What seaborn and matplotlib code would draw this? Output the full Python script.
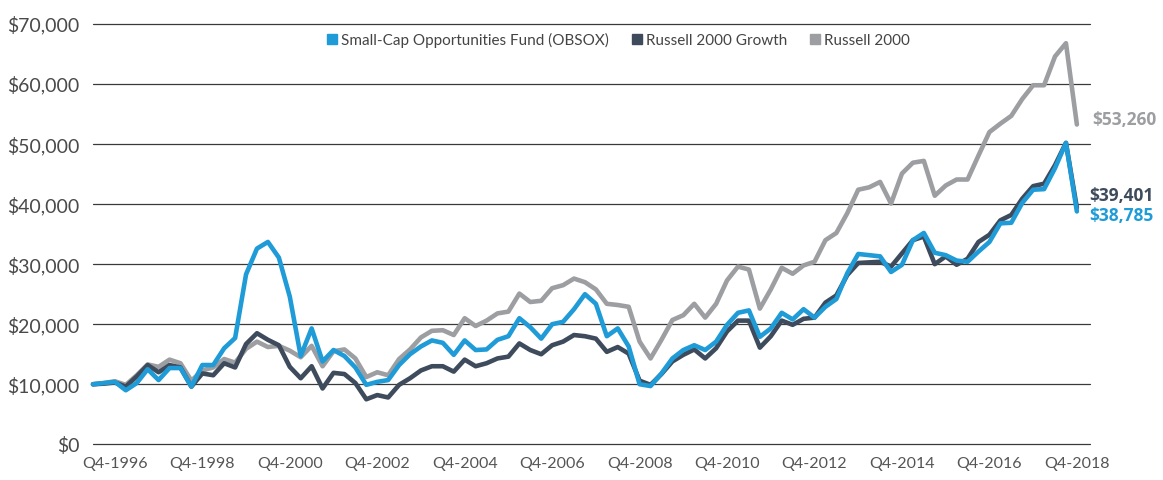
import numpy as np
import pandas as pd
import matplotlib
matplotlib.use("Agg")
import matplotlib.pyplot as plt
from matplotlib.lines import Line2D
import seaborn as sns

# ---- data (values in $ thousands, quarterly, Q2-1996 .. Q4-2018) ----
fund = [10.0, 10.2, 10.4, 9.0, 10.2, 12.5, 10.7, 12.7, 12.7, 9.6,
        13.2, 13.2, 16.0, 17.7, 28.3, 32.6, 33.7, 31.1, 24.6, 14.7,
        19.3, 13.8, 15.7, 14.7, 12.8, 9.9, 10.4, 10.7, 13.2, 15.0,
        16.3, 17.3, 16.9, 14.9, 17.3, 15.7, 15.8, 17.4, 18.0, 21.0,
        19.5, 17.6, 20.0, 20.4, 22.5, 25.0, 23.4, 18.0, 19.3, 16.3,
        10.0, 9.7, 11.8, 14.3, 15.7, 16.5, 15.7, 17.1, 19.9, 21.9,
        22.3, 17.9, 19.3, 21.9, 20.8, 22.5, 21.1, 22.9, 24.2, 28.5,
        31.7, 31.5, 31.3, 28.7, 29.9, 34.0, 35.2, 31.9, 31.5, 30.6,
        30.4, 32.1, 33.7, 36.8, 36.9, 40.2, 42.4, 42.5, 46.0, 50.2,
        38.785]
r2000g = [10.0, 10.1, 10.3, 9.6, 11.3, 13.2, 12.0, 13.2, 12.8, 9.6,
          11.8, 11.5, 13.5, 12.8, 16.7, 18.5, 17.4, 16.5, 12.9, 11.0,
          13.0, 9.3, 11.9, 11.7, 10.2, 7.5, 8.2, 7.8, 9.9, 11.0,
          12.3, 13.0, 13.0, 12.1, 14.1, 13.0, 13.5, 14.3, 14.6, 16.8,
          15.7, 15.0, 16.5, 17.1, 18.2, 18.0, 17.6, 15.4, 16.2, 15.1,
          10.6, 9.9, 11.7, 13.8, 14.9, 15.8, 14.3, 16.0, 18.8, 20.6,
          20.6, 16.1, 18.0, 20.6, 19.9, 20.9, 21.1, 23.6, 24.8, 28.2,
          30.2, 30.3, 30.4, 29.6, 31.8, 34.0, 34.6, 30.0, 31.3, 29.9,
          30.9, 33.7, 34.9, 37.3, 38.2, 40.9, 43.0, 43.4, 46.5, 50.2,
          39.401]
r2000 = [10.0, 10.2, 10.5, 9.9, 11.5, 13.3, 12.9, 14.1, 13.5, 10.6,
         12.3, 12.8, 14.2, 13.6, 15.9, 17.1, 16.2, 16.4, 15.6, 14.5,
         16.4, 13.0, 15.5, 15.8, 14.3, 11.2, 12.0, 11.5, 14.2, 15.8,
         17.8, 18.9, 19.0, 18.2, 21.0, 19.7, 20.6, 21.8, 22.1, 25.1,
         23.7, 23.9, 26.0, 26.5, 27.6, 27.0, 25.8, 23.4, 23.2, 22.9,
         17.1, 14.3, 17.4, 20.7, 21.5, 23.4, 21.1, 23.4, 27.3, 29.6,
         29.1, 22.6, 25.8, 29.4, 28.4, 29.8, 30.4, 34.0, 35.2, 38.5,
         42.4, 42.8, 43.7, 40.1, 45.1, 46.9, 47.2, 41.4, 43.1, 44.1,
         44.1, 48.1, 52.0, 53.4, 54.7, 57.5, 59.8, 59.8, 64.6, 66.8,
         53.26]
series_names = ["Small-Cap Opportunities Fund (OBSOX)", "Russell 2000 Growth", "Russell 2000"]
tick_labels = ["Q4-1996", "Q4-1998", "Q4-2000", "Q4-2002", "Q4-2004", "Q4-2006",
               "Q4-2008", "Q4-2010", "Q4-2012", "Q4-2014", "Q4-2016", "Q4-2018"]
end_labels = ["$38,785", "$39,401", "$53,260"]

colors = {series_names[0]: "#1f9bd7", series_names[1]: "#3e4b5c", series_names[2]: "#9d9ea1"}

n = len(fund)
df = pd.DataFrame({
    "q": list(range(n)) * 3,
    "value": [v * 1000 for v in fund + r2000g + r2000],
    "series": [series_names[0]] * n + [series_names[1]] * n + [series_names[2]] * n,
})

sns.set_theme(style="white")
plt.rcParams["font.family"] = ["Lato", "DejaVu Sans"]

fig = plt.figure(figsize=(11.63, 4.80), dpi=100)
ax = fig.add_axes([93 / 1163, 1 - 444.3 / 480, (1090 - 93) / 1163, (444.3 - 24) / 480])

# gridlines
for v in range(0, 70001, 10000):
    ax.axhline(v, color="#3a3a3a", lw=0.9, zorder=0)

order = [series_names[2], series_names[1], series_names[0]]
for name in order:
    sns.lineplot(data=df[df["series"] == name], x="q", y="value", color=colors[name],
                 lw=3.3, ax=ax, legend=False, zorder=3)
for line in ax.lines:
    line.set_clip_on(False)

ax.set_xlim(0, 91.2)
ax.set_ylim(0, 70000)
ax.set_yticks(range(0, 70001, 10000))
ax.set_yticklabels([f"${v:,}" for v in range(0, 70001, 10000)], fontsize=14, color="#4a4a4a")
ax.set_xticks(list(range(2, n, 8)))
ax.set_xticklabels(tick_labels, fontsize=11.5, color="#555555")
ax.tick_params(axis="y", length=0, pad=10)
ax.tick_params(axis="x", length=0, pad=9)
ax.set_xlabel("")
ax.set_ylabel("")
for s in ax.spines.values():
    s.set_visible(False)

# end labels
lab_font = dict(fontsize=12.5, fontweight="bold", family=["Open Sans", "DejaVu Sans"])
ax.annotate(end_labels[2], xy=(n - 1, r2000[-1] * 1000), xytext=(11, 3), textcoords="offset points",
            ha="left", va="center", color=colors[series_names[2]], annotation_clip=False, **lab_font)
ax.annotate(end_labels[1], xy=(n - 1, r2000g[-1] * 1000), xytext=(9, 8.5), textcoords="offset points",
            ha="left", va="center", color=colors[series_names[1]], annotation_clip=False, **lab_font)
ax.annotate(end_labels[0], xy=(n - 1, fund[-1] * 1000), xytext=(9, -3.5), textcoords="offset points",
            ha="left", va="center", color=colors[series_names[0]], annotation_clip=False, **lab_font)

handles = [Line2D([], [], marker="s", ls="none", color=colors[nm], markersize=7) for nm in series_names]
fig.legend(handles, series_names, loc="center", bbox_to_anchor=(617 / 1163, 1 - 40 / 480), ncol=3,
           frameon=False, fontsize=11, handletextpad=0.1, columnspacing=1.3, labelcolor="#444444",
           handlelength=1.0)

fig.savefig("out.png", dpi=100)
